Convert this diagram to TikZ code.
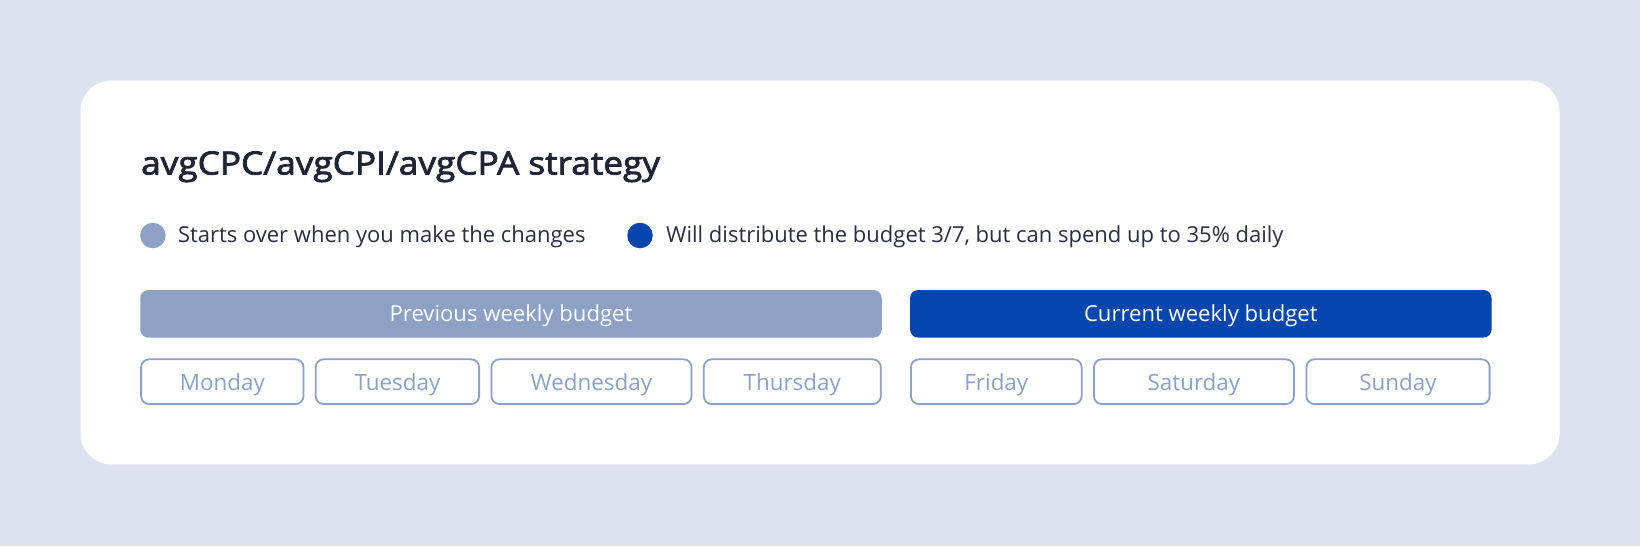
\documentclass[tikz,border=0pt]{standalone}
\usepackage{fontspec}
\setmainfont{Open Sans}
\newfontfamily\titlefont[FakeBold=2.4,FakeStretch=1.1]{Open Sans}
\definecolor{bgc}{HTML}{DCE3EE}
\definecolor{titlec}{HTML}{1F2533}
\definecolor{textc}{HTML}{2A2F3D}
\definecolor{lightb}{HTML}{8CA1C3}
\definecolor{darkb}{HTML}{0046AD}
\tikzset{
  barbox/.style={rounded corners=8pt, minimum height=47.5pt, text=white, font=\fontsize{22.1}{24}\selectfont, inner sep=0pt, text height=15.8pt, text depth=0pt},
  daybox/.style={draw=lightb, line width=1.8pt, fill=white, rounded corners=8pt, minimum height=44.8pt, text=lightb, font=\fontsize{22.4}{24}\selectfont, inner sep=0pt, text height=16.6pt, text depth=0pt},
  dot/.style={circle, inner sep=0pt, minimum size=25.5pt},
  legend/.style={anchor=base west, inner sep=0pt, text=textc, font=\fontsize{22}{24}\selectfont},
}
\begin{document}
\begin{tikzpicture}[x=1pt,y=-1pt]
\fill[bgc] (0,0) rectangle (1640,546);
\useasboundingbox (0,0) rectangle (1640,546);
\fill[white, rounded corners=31pt] (80.5,80.5) rectangle (1559.5,464.4);
\node[anchor=base west, inner sep=0pt, text=titlec, font=\titlefont\fontsize{32}{36}\selectfont] (title) at (141,174.5) {avgCPC/avgCPI/avgCPA strategy};
\node[dot, fill=lightb] (d1) at (152.9,235.5) {};
\node[legend] (l1) at (177.8,242.7) {Starts over when you make the changes};
\node[dot, fill=darkb] (d2) at (640,235.5) {};
\node[legend] (l2) at (666,242.7) {Will distribute the budget 3/7, but can spend up to 35\% daily};
\node[barbox, fill=lightb, minimum width=741.5pt] (prev) at (511,313.8) {Previous weekly budget};
\node[barbox, fill=darkb, minimum width=581.5pt] (curr) at (1200.8,313.8) {Current weekly budget};
\node[daybox, minimum width=162.4pt] (mon) at (222.3,381.7) {Monday};
\node[daybox, minimum width=163.4pt] (tue) at (397.4,381.7) {Tuesday};
\node[daybox, minimum width=200.1pt] (wed) at (591.5,381.7) {Wednesday};
\node[daybox, minimum width=177pt] (thu) at (792.3,381.7) {Thursday};
\node[daybox, minimum width=170.7pt] (fri) at (996.3,381.7) {Friday};
\node[daybox, minimum width=200pt] (sat) at (1193.9,381.7) {Saturday};
\node[daybox, minimum width=183.2pt] (sun) at (1398,381.7) {Sunday};
\end{tikzpicture}
\end{document}
